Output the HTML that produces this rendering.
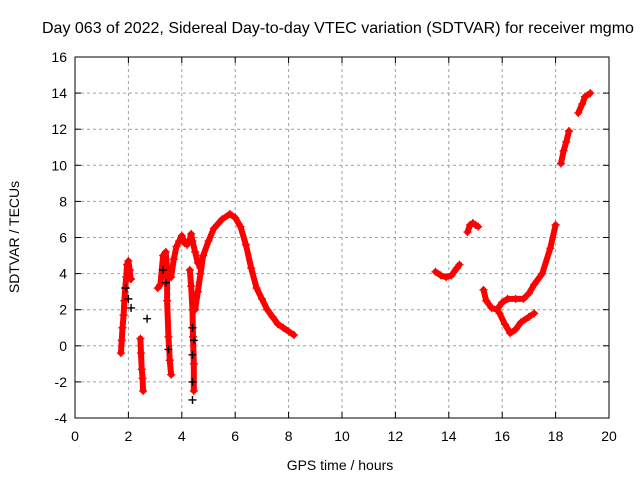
<!DOCTYPE html>
<html><head><meta charset="utf-8"><style>
body{margin:0;background:#fff;overflow:hidden;}
svg{display:block;font-family:"Liberation Sans",sans-serif;}
</style></head><body>
<svg id="chart" width="640" height="480" viewBox="0 0 640 480">
<text x="42" y="33" font-size="16" fill="#000">Day 063 of 2022, Sidereal Day-to-day VTEC variation (SDTVAR) for receiver mgmo</text>
<g id="grid"></g>
<g id="ticks"></g>
<g id="marks"></g>
<rect x="75" y="57" width="534" height="361" fill="none" stroke="#000" stroke-width="1"/>
<text x="340" y="470" font-size="14" text-anchor="middle">GPS time / hours</text>
<text transform="translate(19,237) rotate(-90)" font-size="14" text-anchor="middle">SDTVAR / TECUs</text>
</svg>
<script>
const xTicks=[0,2,4,6,8,10,12,14,16,18,20];
const yTicks=[-4,-2,0,2,4,6,8,10,12,14,16];
const segA=[[1.72,-0.4],[1.75,0.3],[1.78,1.0],[1.82,1.7],[1.85,2.5],[1.88,3.2],[1.92,3.8],[1.95,4.5],[2.0,4.7],[2.05,4.2],[2.08,3.7],[2.1,3.7]];
const segB=[[2.45,0.4],[2.47,-0.4],[2.5,-1.3],[2.53,-1.8],[2.55,-2.5]];
const segC=[[3.1,3.2],[3.2,3.4],[3.3,5.0],[3.4,5.2],[3.45,4.2],[3.45,2.5],[3.5,0.5],[3.55,-0.8],[3.6,-1.6]];
const segD=[[3.6,3.8],[3.7,4.8],[3.8,5.5],[3.9,5.8],[4.0,6.1],[4.1,5.7],[4.2,5.6],[4.3,5.9],[4.35,6.2],[4.4,5.8],[4.5,5.2],[4.6,4.6],[4.7,4.3]];
const segE=[[4.3,4.2],[4.35,3.3],[4.4,2.0],[4.42,0.5],[4.45,-1.0],[4.45,-2.5]];
const segF=[[4.5,2.0],[4.6,3.0],[4.7,4.0],[4.8,5.0],[5.0,5.8],[5.2,6.5],[5.5,7.0],[5.8,7.3],[6.0,7.1],[6.2,6.6],[6.4,5.6],[6.6,4.3],[6.8,3.2],[7.0,2.6],[7.2,2.0],[7.4,1.6],[7.6,1.2],[7.8,1.0],[8.0,0.8],[8.2,0.6]];
const segG=[[13.5,4.1],[13.7,3.9],[13.9,3.8],[14.1,3.9],[14.3,4.3],[14.4,4.5]];
const segH=[[14.7,6.3],[14.8,6.7],[14.9,6.8],[15.0,6.7],[15.1,6.6]];
const segI=[[15.3,3.1],[15.4,2.5],[15.6,2.1],[15.8,2.0],[16.0,2.4],[16.2,2.6],[16.5,2.6],[16.8,2.6],[17.0,2.9],[17.2,3.4],[17.5,4.0],[17.8,5.4],[18.0,6.7]];
const segJ=[[15.9,1.8],[16.1,1.2],[16.3,0.7],[16.5,0.9],[16.7,1.3],[17.0,1.6],[17.2,1.8]];
const segK=[[18.2,10.1],[18.3,10.8],[18.4,11.3],[18.5,11.9]];
const segL=[[18.85,12.9],[19.0,13.4],[19.1,13.8],[19.3,14.0]];
const blackPts=[[1.9,3.2],[2.0,2.6],[2.1,2.1],[2.7,1.5],[3.3,4.2],[3.4,3.5],[3.5,-0.2],[4.4,1.0],[4.45,0.3],[4.4,-0.5],[4.4,-2.0],[4.4,-3.0]];
const segments=[segA,segB,segC,segD,segE,segF,segG,segH,segI,segJ,segK,segL];

const X0=75,X1=609,Y0=418,Y1=57;
const sx=v=>X0+(v-0)/(20-0)*(X1-X0);
const sy=v=>Y0-(v+4)/(16+4)*(Y0-Y1);
const NS='http://www.w3.org/2000/svg';
const grid=document.getElementById('grid'),ticks=document.getElementById('ticks'),marks=document.getElementById('marks');
function mk(tag,attrs,parent){const e=document.createElementNS(NS,tag);for(const k in attrs)e.setAttribute(k,attrs[k]);parent.appendChild(e);return e;}
xTicks.forEach(t=>{
 const x=sx(t);
 if(t>0&&t<20){const g=mk('line',{x1:x,y1:Y1,x2:x,y2:Y0,stroke:'#a0a0a0','stroke-dasharray':'3,3'},grid);
 
 }
 mk('line',{x1:x,y1:Y0,x2:x,y2:Y0-6,stroke:'#000'},ticks);
 mk('line',{x1:x,y1:Y1,x2:x,y2:Y1+6,stroke:'#000'},ticks);
 const l=mk('text',{x:x,y:Y0+23,'font-size':14,'text-anchor':'middle'},ticks);l.textContent=t;
 
 
});
yTicks.forEach(t=>{
 const y=sy(t);
 if(t>-4&&t<16){const g=mk('line',{x1:X0,y1:y,x2:X1,y2:y,stroke:'#a0a0a0','stroke-dasharray':'3,3'},grid);
 
 }
 mk('line',{x1:X0,y1:y,x2:X0+6,y2:y,stroke:'#000'},ticks);
 mk('line',{x1:X1,y1:y,x2:X1-6,y2:y,stroke:'#000'},ticks);
 const l=mk('text',{x:X0-8,y:y+5,'font-size':14,'text-anchor':'end'},ticks);l.textContent=t;
 
 
});
function cross(x,y,c,p){mk('path',{d:`M${x-4},${y}h8M${x},${y-4}v8`,stroke:c,'stroke-width':1.4,fill:'none'},p);}
segments.forEach((s,i)=>{
 const pl=mk('polyline',{points:s.map(p=>sx(p[0])+','+sy(p[1])).join(' '),fill:'none',stroke:'#ff0000','stroke-width':6,'stroke-linejoin':'round','stroke-linecap':'round'},marks);
 
 
 s.forEach(p=>cross(sx(p[0]),sy(p[1]),'#ff0000',marks));
});
blackPts.forEach(p=>cross(sx(p[0]),sy(p[1]),'#000',marks));
</script>
</body></html>
